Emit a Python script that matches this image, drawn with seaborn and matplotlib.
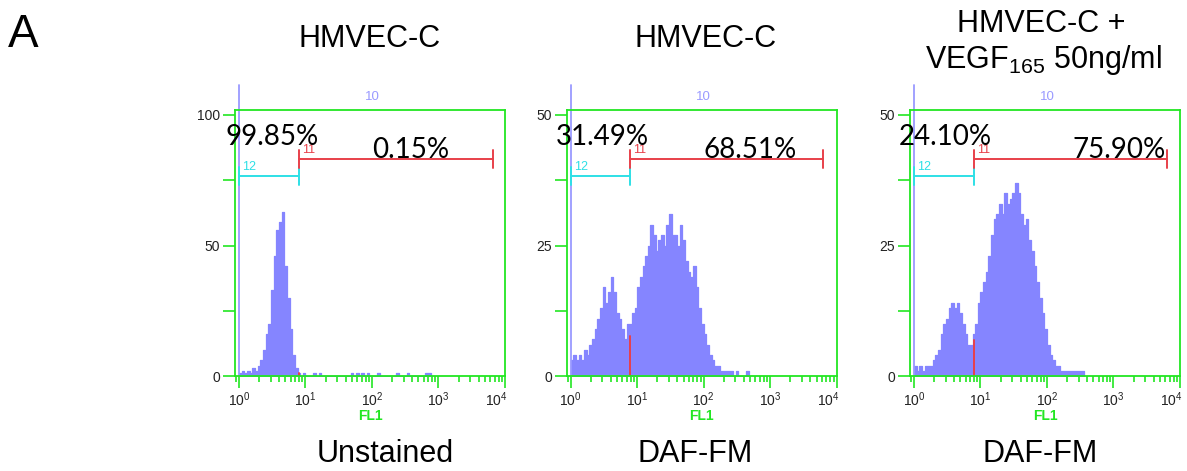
import os

os.environ.setdefault("MPLCONFIGDIR", "/tmp")

import matplotlib
matplotlib.use("Agg")
import matplotlib.pyplot as plt
import matplotlib.transforms as mtransforms
from matplotlib.ticker import FixedLocator, LogLocator, NullFormatter
import numpy as np
import pandas as pd
import seaborn as sns

# histogram counts, one value per 0.04-decade group of FL1 channels, starting at 10^0
BIN_STEP = 0.04

unstained_counts = [1, 2, 1, 2, 1, 3, 2, 4, 6, 10,
                    16, 20, 33, 46, 56, 59, 63, 42, 30, 18,
                    8, 3, 1, 0, 1, 0, 0, 0, 1, 0,
                    1, 0, 0, 0, 0, 0, 0, 0, 0, 0,
                    0, 0, 1, 0, 1, 0, 1, 0, 1, 0,
                    0, 0, 1, 0, 0, 0, 0, 0, 0, 1,
                    0, 0, 0, 1, 0, 0, 0, 0, 0, 0,
                    1, 1]
dafm_counts = [3, 4, 3, 4, 3, 5, 4, 6, 7, 9,
               11, 13, 17, 14, 16, 19, 16, 12, 11, 9,
               7, 10, 10, 12, 13, 17, 19, 21, 23, 25,
               29, 27, 24, 26, 27, 25, 29, 31, 27, 27,
               25, 29, 26, 22, 20, 19, 21, 17, 13, 10,
               8, 6, 4, 3, 2, 2, 1, 1, 1, 1,
               1, 0, 1, 0, 0, 0, 1]
vegf_counts = [2, 1, 2, 1, 2, 2, 2, 3, 4, 5,
               8, 10, 11, 13, 14, 13, 14, 12, 10, 8,
               6, 6, 8, 10, 14, 16, 18, 20, 23, 27,
               30, 31, 33, 31, 35, 33, 34, 35, 37, 35,
               31, 29, 30, 26, 24, 21, 18, 15, 12, 9,
               6, 4, 3, 2, 2, 1, 1, 1, 1, 1,
               1, 1, 1, 1]

panel_counts = [unstained_counts, dafm_counts, vegf_counts]
titles = [["HMVEC-C"], ["HMVEC-C"], ["HMVEC-C +", r"VEGF$_{\mathregular{165}}$ 50ng/ml"]]
stain_labels = ["Unstained", "DAF-FM", "DAF-FM"]
pct_negative = ["99.85%", "31.49%", "24.10%"]
pct_positive = ["0.15%", "68.51%", "75.90%"]
y_max = [100, 50, 50]
gate_edge = [7.9, 7.7, 7.9]
gate_end = [6600, 6200, 6300]
edge_height = [1, 7.7, 6.9]

GREEN = "#22e622"
HIST = "#8585ff"
MARKER = "#9a9aff"
CYAN = "#2ee0e6"
RED = "#e8404a"

sns.set_style("white")
plt.rcParams["font.family"] = ["Liberation Sans", "DejaVu Sans"]
plt.rcParams["mathtext.fontset"] = "custom"
plt.rcParams["mathtext.rm"] = "Liberation Sans"
plt.rcParams["mathtext.it"] = "Liberation Sans:italic"
plt.rcParams["text.color"] = "black"

W, H = 1187, 471
fig = plt.figure(figsize=(W / 100, H / 100), dpi=100)


def fx(px):
    return px / W


def fy(py):
    return 1 - py / H


axes_left = [235, 566.7, 910]
title_x = [370, 706, 1041]
label_x = [385, 695, 1040]
neg_x = [-0.037, -0.040, -0.041]
pos_x = [0.507, 0.505, 0.600]

for i in range(3):
    ax = fig.add_axes([fx(axes_left[i]), fy(376), 270 / W, 266 / H])
    counts = panel_counts[i]
    n = len(counts)
    df = pd.DataFrame({
        "fl1": 10 ** (BIN_STEP * (np.arange(n) + 0.5)),
        "count": counts,
    })
    sns.histplot(data=df, x="fl1", weights="count", binwidth=BIN_STEP,
                 binrange=(0, BIN_STEP * n), log_scale=True, element="step",
                 fill=True, color=HIST, alpha=1, edgecolor=HIST, linewidth=0.9,
                 ax=ax)

    top = y_max[i] * 266 / 261
    ax.set_xlim(10 ** -0.06, 10 ** 4)
    ax.set_ylim(0, top)
    ax.set_ylabel("")

    # x axis: decades with minor ticks
    ax.xaxis.set_major_locator(FixedLocator([1, 10, 100, 1000, 10000]))
    ax.set_xticklabels([r"$\mathregular{10^{%d}}$" % k for k in range(5)])
    ax.xaxis.set_minor_locator(LogLocator(base=10, subs=np.arange(2, 10)))
    ax.xaxis.set_minor_formatter(NullFormatter())
    ax.set_yticks([0, y_max[i] / 2, y_max[i]])
    ax.set_yticklabels([str(v) for v in (0, y_max[i] // 2, y_max[i])])
    ax.yaxis.set_minor_locator(FixedLocator([y_max[i] / 4, 3 * y_max[i] / 4]))
    ax.tick_params(which="both", direction="out", color=GREEN, width=1.2,
                   labelcolor="#222222", labelsize=10)
    ax.tick_params(axis="y", which="both", length=8.6, pad=2)
    ax.tick_params(axis="x", which="major", length=8.6, pad=2)
    ax.tick_params(axis="x", which="minor", length=4.5)
    ax.tick_params(bottom=True, left=True, which="both")
    # last decade label sits left of its tick, as in the cytometer output
    last = ax.get_xticklabels()[-1]
    last.set_horizontalalignment("right")
    last.set_transform(last.get_transform()
                       + mtransforms.ScaledTranslation(3 / 100, 0, fig.dpi_scale_trans))
    ax.set_xlabel("FL1", color=GREEN, fontweight="bold", fontsize=10, labelpad=0)
    for sp in ax.spines.values():
        sp.set_color(GREEN)
        sp.set_linewidth(1.3)
    ax.grid(False)

    xt = ax.get_xaxis_transform()
    # marker 10 at channel 1
    ax.plot([1, 1], [0, 1.094], color=MARKER, lw=1.3, transform=xt, clip_on=False)
    ax.text(100, 1.025, "10", color=MARKER, fontsize=9.5, ha="center",
            va="bottom", transform=xt)
    # marker 12 (negative gate)
    ax.plot([1, gate_edge[i]], [0.752, 0.752], color=CYAN, lw=1.4, transform=xt)
    for gx in (1, gate_edge[i]):
        ax.plot([gx, gx], [0.752 - 0.034, 0.752 + 0.034], color=CYAN, lw=1.4,
                transform=xt)
    ax.text(1.12, 0.765, "12", color=CYAN, fontsize=9, ha="left",
            va="bottom", transform=xt)
    # marker 11 (positive gate)
    ax.plot([gate_edge[i], gate_end[i]], [0.816, 0.816], color=RED, lw=1.4,
            transform=xt)
    for gx in (gate_edge[i], gate_end[i]):
        ax.plot([gx, gx], [0.816 - 0.034, 0.816 + 0.034], color=RED, lw=1.4,
                transform=xt)
    ax.text(gate_edge[i] * 1.12, 0.828, "11", color=RED, fontsize=9,
            ha="left", va="bottom", transform=xt)
    ax.plot([gate_edge[i], gate_edge[i]], [0, edge_height[i]], color=RED, lw=1.4)

    ax.text(neg_x[i], 0.868, pct_negative[i], transform=ax.transAxes,
            fontsize=20, family="Lato", ha="left", va="baseline", color="black")
    ax.text(pos_x[i], 0.820, pct_positive[i], transform=ax.transAxes,
            fontsize=20, family="Lato", ha="left", va="baseline", color="black")

    if len(titles[i]) == 1:
        fig.text(fx(title_x[i]), fy(47), titles[i][0], fontsize=22,
                 ha="center", va="baseline")
    else:
        fig.text(fx(title_x[i]), fy(32), titles[i][0], fontsize=22,
                 ha="center", va="baseline")
        fig.text(fx(title_x[i] + 2), fy(68), titles[i][1], fontsize=22,
                 ha="center", va="baseline")
    fig.text(fx(label_x[i]), fy(462), stain_labels[i], fontsize=22,
             ha="center", va="baseline")

fig.text(fx(8), fy(47), "A", fontsize=33, ha="left", va="baseline")

fig.savefig("out.png", dpi=100)
